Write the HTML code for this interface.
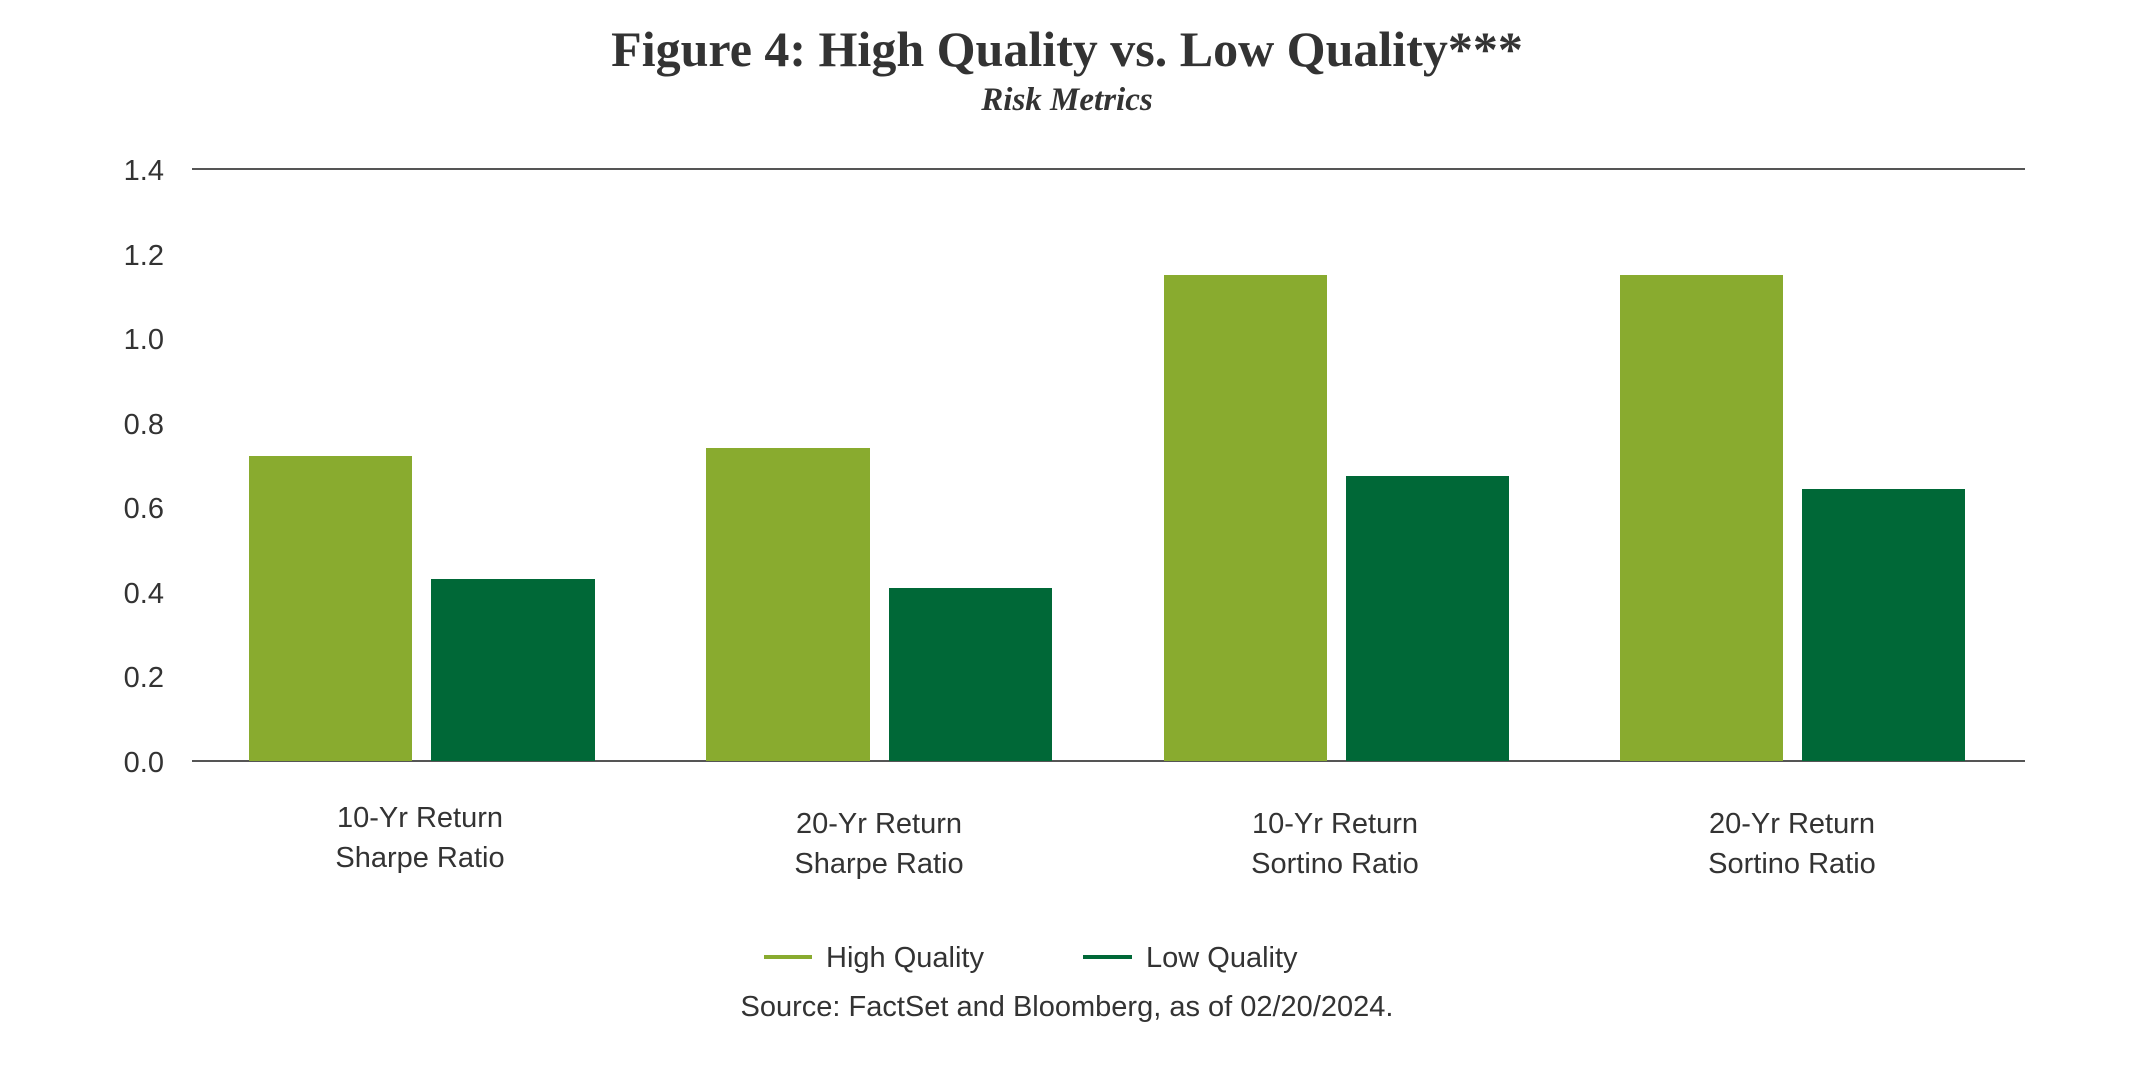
<!DOCTYPE html>
<html><head><meta charset="utf-8"><style>
html,body{margin:0;padding:0;background:#fff;}
svg{display:block;}
</style></head><body>
<svg width="2134" height="1067" viewBox="0 0 2134 1067" xmlns="http://www.w3.org/2000/svg">
<rect width="2134" height="1067" fill="#fff"/>
<text x="1067" y="66" text-anchor="middle" font-family="Liberation Serif, serif" font-weight="bold" font-size="50" fill="#333">Figure 4: High Quality vs. Low Quality***</text>
<text x="1067" y="110" text-anchor="middle" font-family="Liberation Serif, serif" font-weight="bold" font-style="italic" font-size="33" fill="#333">Risk Metrics</text>
<g stroke="#555" stroke-width="2">
<line x1="192" y1="169" x2="2025" y2="169"/>
<line x1="192" y1="761" x2="2025" y2="761"/>
</g>
<g font-family="Liberation Sans, sans-serif" font-size="29" fill="#333" text-anchor="end">
<text x="164" y="180">1.4</text>
<text x="164" y="265">1.2</text>
<text x="164" y="349">1.0</text>
<text x="164" y="434">0.8</text>
<text x="164" y="518">0.6</text>
<text x="164" y="603">0.4</text>
<text x="164" y="687">0.2</text>
<text x="164" y="772">0.0</text>
</g>
<g fill="#89AB2F">
<rect x="249" y="456" width="163" height="305"/>
<rect x="706" y="448" width="164" height="313"/>
<rect x="1164" y="275" width="163" height="486"/>
<rect x="1620" y="275" width="163" height="486"/>
</g>
<g fill="#006837">
<rect x="431" y="579" width="164" height="182"/>
<rect x="889" y="588" width="163" height="173"/>
<rect x="1346" y="476" width="163" height="285"/>
<rect x="1802" y="489" width="163" height="272"/>
</g>
<g font-family="Liberation Sans, sans-serif" font-size="29" fill="#333" text-anchor="middle">
<text x="420" y="827">10-Yr Return</text>
<text x="420" y="867">Sharpe Ratio</text>
<text x="879" y="833">20-Yr Return</text>
<text x="879" y="873">Sharpe Ratio</text>
<text x="1335" y="833">10-Yr Return</text>
<text x="1335" y="873">Sortino Ratio</text>
<text x="1792" y="833">20-Yr Return</text>
<text x="1792" y="873">Sortino Ratio</text>
</g>
<line x1="764" y1="957" x2="812" y2="957" stroke="#89AB2F" stroke-width="4"/>
<line x1="1083" y1="957" x2="1132" y2="957" stroke="#006837" stroke-width="4"/>
<g font-family="Liberation Sans, sans-serif" font-size="29" fill="#333">
<text x="826" y="967">High Quality</text>
<text x="1146" y="967">Low Quality</text>
<text x="1067" y="1016" text-anchor="middle">Source: FactSet and Bloomberg, as of 02/20/2024.</text>
</g>
</svg>
</body></html>
